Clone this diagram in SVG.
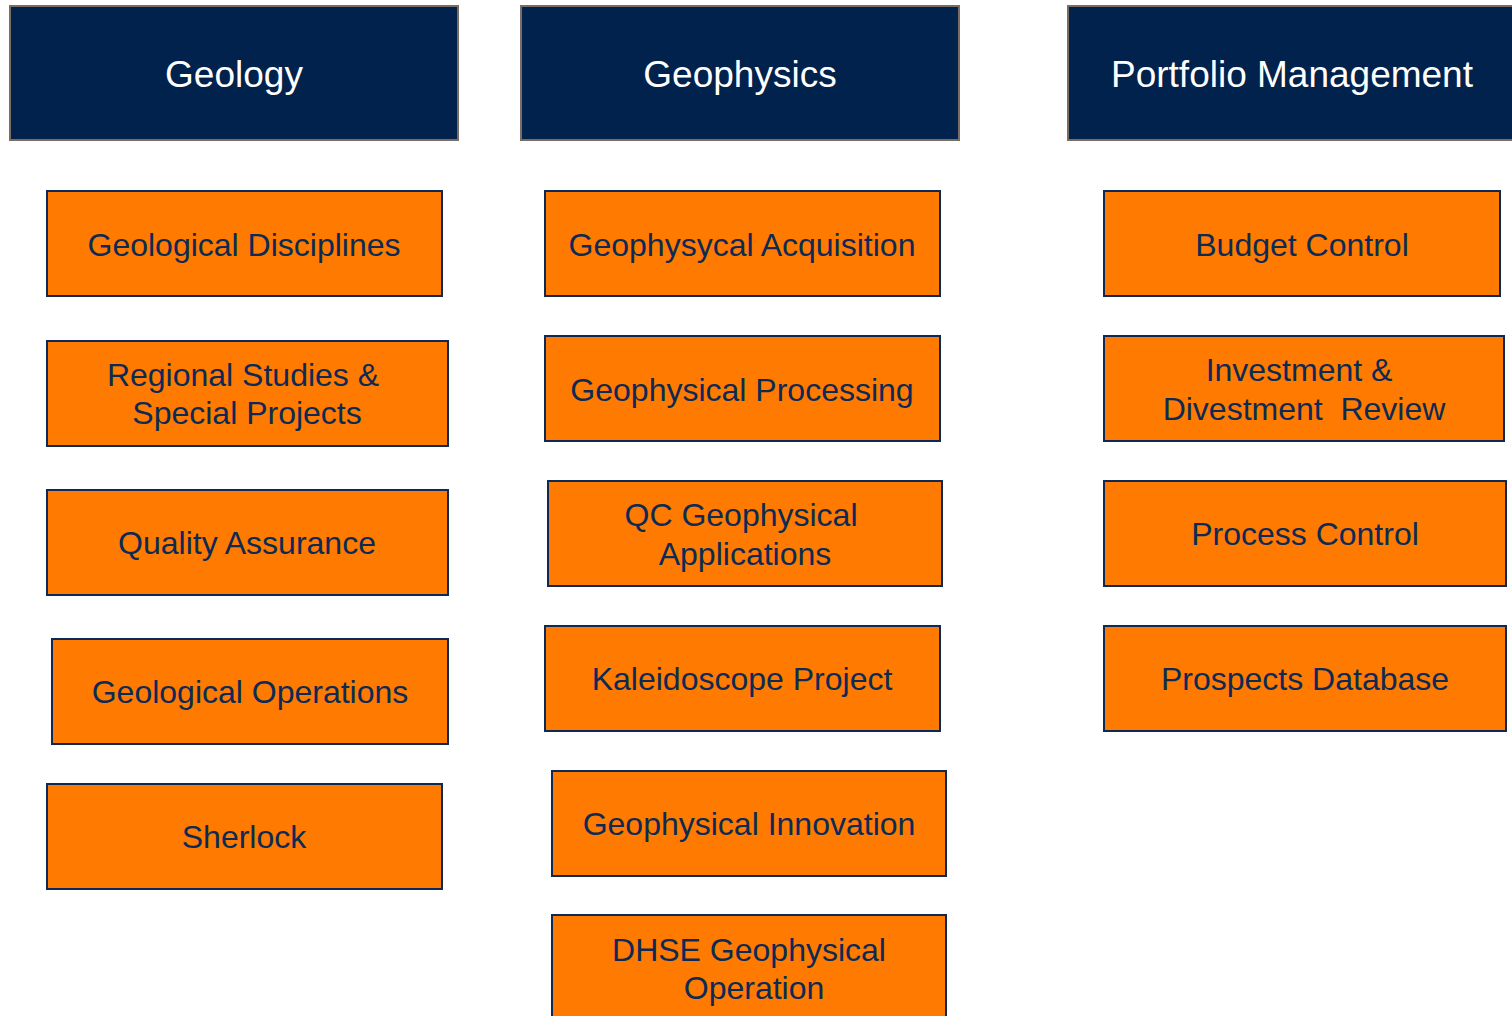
<svg xmlns="http://www.w3.org/2000/svg" width="1512" height="1016" viewBox="0 0 1512 1016">
<style>
.hdr{fill:#00224c;stroke:#7a6e64;stroke-width:2}
.hdr-t{fill:#ffffff;font-family:"Liberation Sans",Arial,sans-serif;font-size:37px;text-anchor:middle}
.box{fill:#ff7a00;stroke:#0c2a55;stroke-width:2}
.box-t{fill:#0c2a55;font-family:"Liberation Sans",Arial,sans-serif;font-size:32px;text-anchor:middle}
</style>
<rect width="1512" height="1016" fill="#ffffff"/>
<g id="h-geology"><rect class="hdr" x="10" y="6" width="448" height="134"/><text class="hdr-t" x="234" y="87">Geology</text></g>
<g id="h-geophysics"><rect class="hdr" x="521" y="6" width="438" height="134"/><text class="hdr-t" x="740" y="87">Geophysics</text></g>
<g id="h-portfolio"><rect class="hdr" x="1068" y="6" width="450" height="134"/><text class="hdr-t" x="1292" y="87">Portfolio Management</text></g>

<g id="n-geo1"><rect class="box" x="47" y="191" width="395" height="105"/><text class="box-t" x="244" y="256">Geological Disciplines</text></g>
<g id="n-geo2"><rect class="box" x="47" y="341" width="401" height="105"/><text class="box-t" x="243" y="386">Regional Studies &amp;</text><text class="box-t" x="247" y="424">Special Projects</text></g>
<g id="n-geo3"><rect class="box" x="47" y="490" width="401" height="105"/><text class="box-t" x="247" y="554">Quality Assurance</text></g>
<g id="n-geo4"><rect class="box" x="52" y="639" width="396" height="105"/><text class="box-t" x="250" y="703">Geological Operations</text></g>
<g id="n-geo5"><rect class="box" x="47" y="784" width="395" height="105"/><text class="box-t" x="244" y="848">Sherlock</text></g>

<g id="n-gph1"><rect class="box" x="545" y="191" width="395" height="105"/><text class="box-t" x="742" y="256">Geophysycal Acquisition</text></g>
<g id="n-gph2"><rect class="box" x="545" y="336" width="395" height="105"/><text class="box-t" x="742" y="401">Geophysical Processing</text></g>
<g id="n-gph3"><rect class="box" x="548" y="481" width="394" height="105"/><text class="box-t" x="741" y="526">QC Geophysical</text><text class="box-t" x="745" y="565">Applications</text></g>
<g id="n-gph4"><rect class="box" x="545" y="626" width="395" height="105"/><text class="box-t" x="742" y="690">Kaleidoscope Project</text></g>
<g id="n-gph5"><rect class="box" x="552" y="771" width="394" height="105"/><text class="box-t" x="749" y="835">Geophysical Innovation</text></g>
<g id="n-gph6"><rect class="box" x="552" y="915" width="394" height="110"/><text class="box-t" x="749" y="961">DHSE Geophysical</text><text class="box-t" x="754" y="999">Operation</text></g>

<g id="n-pm1"><rect class="box" x="1104" y="191" width="396" height="105"/><text class="box-t" x="1302" y="256">Budget Control</text></g>
<g id="n-pm2"><rect class="box" x="1104" y="336" width="400" height="105"/><text class="box-t" x="1299" y="381">Investment &amp;</text><text class="box-t" x="1304" y="420" xml:space="preserve">Divestment  Review</text></g>
<g id="n-pm3"><rect class="box" x="1104" y="481" width="402" height="105"/><text class="box-t" x="1305" y="545">Process Control</text></g>
<g id="n-pm4"><rect class="box" x="1104" y="626" width="402" height="105"/><text class="box-t" x="1305" y="690">Prospects Database</text></g>

<g id="connectors"></g>
</svg>
